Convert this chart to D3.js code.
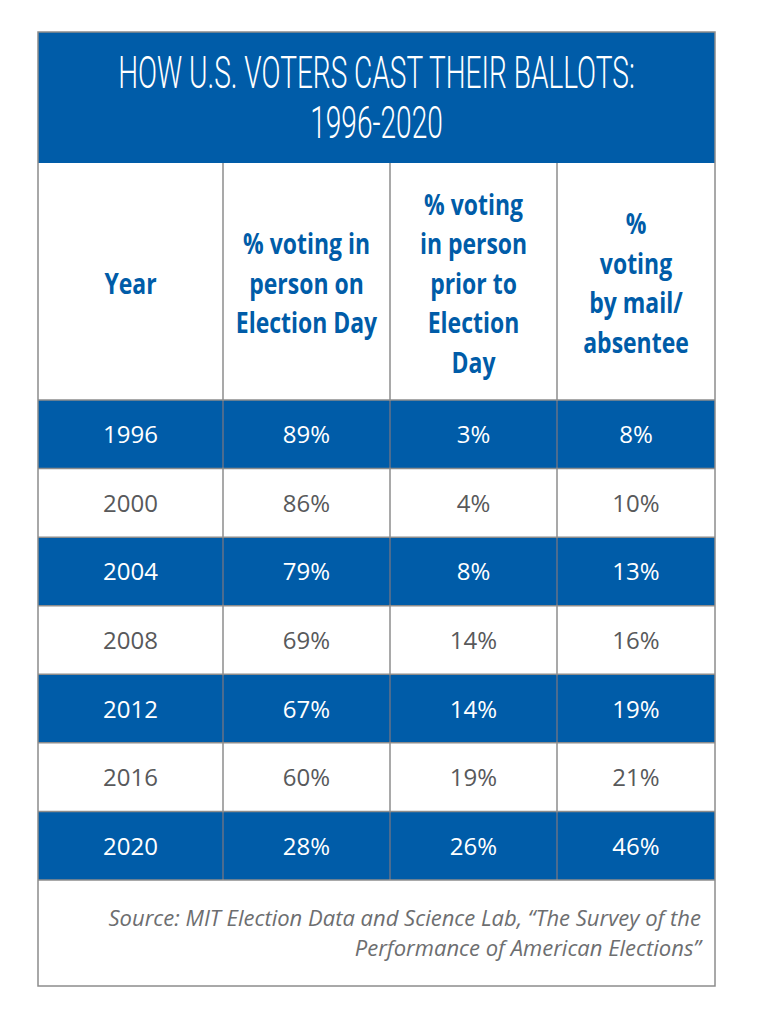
<!DOCTYPE html>
<html><head><meta charset="utf-8">
<script src="https://cdn.jsdelivr.net/npm/d3@7"></script>
<style>html,body{margin:0;padding:0;background:#fff;}svg{display:block;}</style>
</head><body>
<script>
// ---- data ----
const titleLines = ["HOW U.S. VOTERS CAST THEIR BALLOTS:", "1996-2020"];
const headers = [
  ["Year"],
  ["% voting in", "person on", "Election Day"],
  ["% voting", "in person", "prior to", "Election", "Day"],
  ["%", "voting", "by mail/", "absentee"]
];
const years = ["1996", "2000", "2004", "2008", "2012", "2016", "2020"];
const electionDay = [89, 86, 79, 69, 67, 60, 28];
const priorInPerson = [3, 4, 8, 14, 14, 19, 26];
const byMail = [8, 10, 13, 16, 19, 21, 46];
const sourceLines = ["Source: MIT Election Data and Science Lab, \u201cThe Survey of the",
                     "Performance of American Elections\u201d"];

// ---- layout ----
const W = 768, H = 1024;
const BLUE = "#005ca8", GRID = "#8c8c8c", TXT = "#58595b";
const frameL = 38, frameR = 715, frameT = 32, titleBottom = 163, headBottom = 400, bodyBottom = 880, frameB = 986;
const colEdges = [frameL, 223, 390, 557, frameR];

const svg = d3.select("body").append("svg").attr("width", W).attr("height", H);

const rowsData = years.map((y, i) => [y, electionDay[i] + "%", priorInPerson[i] + "%", byMail[i] + "%"]);
const yRow = d3.scaleBand().domain(years).range([headBottom, bodyBottom]);
const colCenter = i => (colEdges[i] + colEdges[i + 1]) / 2;

// title band
svg.append("rect").attr("x", frameL).attr("y", frameT).attr("width", frameR - frameL).attr("height", titleBottom - frameT).attr("fill", BLUE);
svg.selectAll("text.title").data(titleLines).join("text")
  .attr("class", "title")
  .attr("transform", (d, i) => `translate(${(frameL + frameR) / 2},${88 + i * 50}) scale(0.645,1)`)
  .attr("text-anchor", "middle")
  .attr("font-family", "Roboto, 'Liberation Sans', sans-serif")
  .attr("font-weight", 300)
  .attr("font-size", 43.5)
  .attr("fill", "#fff")
  .text(d => d);

// body row backgrounds
svg.selectAll("rect.row").data(years).join("rect")
  .attr("class", "row")
  .attr("x", frameL).attr("y", d => yRow(d))
  .attr("width", frameR - frameL).attr("height", yRow.bandwidth())
  .attr("fill", (d, i) => i % 2 === 0 ? BLUE : "#fff");

// grid lines: horizontal
const hLines = [headBottom, ...years.map(y => yRow(y) + yRow.bandwidth())];
svg.selectAll("line.h").data(hLines).join("line")
  .attr("class", "h")
  .attr("x1", frameL).attr("x2", frameR).attr("y1", d => d).attr("y2", d => d)
  .attr("stroke", GRID).attr("stroke-width", 1.5);

// vertical column separators
svg.selectAll("line.v").data(colEdges.slice(1, -1)).join("line")
  .attr("class", "v")
  .attr("x1", d => d).attr("x2", d => d).attr("y1", titleBottom).attr("y2", bodyBottom)
  .attr("stroke", GRID).attr("stroke-width", 1.5);
// darker separators over blue rows
years.forEach((y, i) => {
  if (i % 2 === 0) {
    svg.append("g").selectAll("line").data(colEdges.slice(1, -1)).join("line")
      .attr("x1", d => d).attr("x2", d => d).attr("y1", yRow(y) + 1).attr("y2", yRow(y) + yRow.bandwidth() - 1)
      .attr("stroke", "#3a5f8e").attr("stroke-width", 1.2);
  }
});

// outer border
svg.append("rect").attr("x", frameL).attr("y", frameT).attr("width", frameR - frameL).attr("height", frameB - frameT)
  .attr("fill", "none").attr("stroke", GRID).attr("stroke-width", 1.5);

// headers
const headMid = (titleBottom + headBottom) / 2;
const lineH = 39.5;
headers.forEach((lines, c) => {
  const n = lines.length;
  svg.append("g").selectAll("text").data(lines).join("text")
    .attr("transform", (d, i) => `translate(${colCenter(c)},${headMid + (i - (n - 1) / 2) * lineH + 12}) scale(0.82,1)`)
    .attr("text-anchor", "middle")
    .attr("font-family", "'Open Sans', Roboto, sans-serif")
    .attr("font-weight", 700)
    .attr("font-size", 28)
    .attr("fill", BLUE)
    .text(d => d);
});

// body cells
rowsData.forEach((row, r) => {
  svg.append("g").selectAll("text").data(row).join("text")
    .attr("x", (d, c) => colCenter(c))
    .attr("y", yRow(years[r]) + yRow.bandwidth() / 2 + 9)
    .attr("text-anchor", "middle")
    .attr("font-family", "'Open Sans', sans-serif")
    .attr("font-size", 24)
    .attr("fill", r % 2 === 0 ? "#fff" : TXT)
    .text(d => d);
});

// source
svg.selectAll("text.src").data(sourceLines).join("text")
  .attr("class", "src")
  .attr("x", 701).attr("y", (d, i) => 926 + i * 30)
  .attr("text-anchor", "end")
  .attr("font-family", "'Open Sans', sans-serif")
  .attr("font-style", "italic")
  .attr("font-size", 22)
  .attr("fill", "#6d6e70")
  .text(d => d);
</script>
</body></html>
